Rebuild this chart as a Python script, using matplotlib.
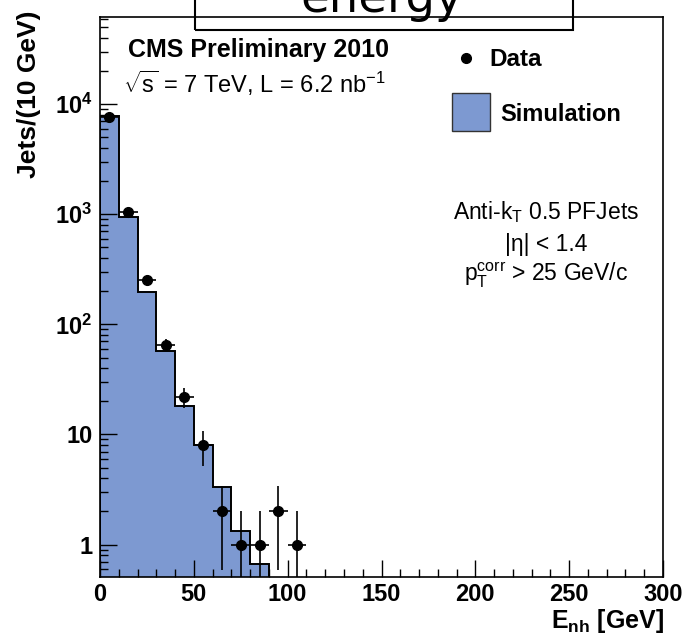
import numpy as np
import matplotlib
matplotlib.use("Agg")
import matplotlib.pyplot as plt
from matplotlib.patches import Rectangle
from matplotlib.lines import Line2D
from matplotlib.ticker import MultipleLocator, LogLocator, NullFormatter

plt.rcParams['font.family'] = ['Liberation Sans', 'DejaVu Sans']
plt.rcParams['mathtext.fontset'] = 'custom'
plt.rcParams['mathtext.rm'] = 'Liberation Sans'
plt.rcParams['mathtext.it'] = 'Liberation Sans:italic'
plt.rcParams['mathtext.bf'] = 'Liberation Sans:bold'

# Neutral hadron energy, 10 GeV bins
data_centers = [5, 15, 25, 35, 45, 55, 65, 75, 85, 95, 105]
data_counts = [7720, 1056, 253, 65, 22, 8, 2, 1, 1, 2, 1]

sim_edges = [0, 10, 20, 30, 40, 50, 60, 70, 80, 90]
sim_counts = [7850, 950, 198, 57.5, 18.1, 8.1, 3.3, 1.32, 0.67]

x_ticks = [0, 50, 100, 150, 200, 250, 300]
x_tick_labels = ['0', '50', '100', '150', '200', '250', '300']
y_ticks = [1, 10, 100, 1000, 10000]
y_tick_labels = ['1', '10', r'$\mathbf{10^{2}}$', r'$\mathbf{10^{3}}$', r'$\mathbf{10^{4}}$']

SIM_BLUE = '#7d99d1'
W, H = 690, 642


def fx(px):
    return px / W


def fy(py):
    return 1 - py / H


fig = plt.figure(figsize=(W / 100, H / 100), dpi=100)
ax = fig.add_axes([fx(100), fy(577), (663 - 100) / W, (577 - 17) / H])
ax.set_yscale('log', nonpositive='clip')
ax.set_xlim(0, 300)
ax.set_ylim(0.507, 6.2e4)

# simulation histogram: filled body plus dark outline
ax.stairs(sim_counts, sim_edges, baseline=1e-3, fill=True, color=SIM_BLUE,
          lw=0, zorder=1)
ax.stairs(sim_counts, sim_edges, baseline=1e-3, color='black', lw=1.4,
          zorder=2)

# data points with Poisson errors and bin-width horizontal bars
counts = np.array(data_counts, dtype=float)
err = np.sqrt(counts)
ax.errorbar(data_centers, counts, xerr=5, yerr=[err, err], fmt='o',
            color='black', ms=7, elinewidth=1.2, capsize=0, zorder=3)

# axes styling
for s in ax.spines.values():
    s.set_linewidth(1.2)
    s.set_color('black')
ax.set_xticks(x_ticks, labels=x_tick_labels, fontsize=17, fontweight='bold')
ax.set_yticks(y_ticks, labels=y_tick_labels, fontsize=17, fontweight='bold')
ax.xaxis.set_minor_locator(MultipleLocator(10))
ax.yaxis.set_minor_locator(LogLocator(base=10, subs=range(2, 10), numticks=20))
ax.yaxis.set_minor_formatter(NullFormatter())
ax.tick_params(which='major', direction='in', length=12, width=1.0)
ax.tick_params(which='minor', direction='in', length=6, width=1.0)
ax.tick_params(axis='x', pad=4)
ax.tick_params(axis='y', pad=5.5)

# axis titles
fig.text(fx(29), fy(11), 'Jets/(10 GeV)', rotation=90, ha='center', va='top',
         fontsize=19, fontweight='bold')
fig.text(fx(664), fy(628), r'$\mathbf{E_{nh}}$ [GeV]', ha='right',
         va='baseline', fontsize=18, fontweight='bold')

# annotations
fig.text(fx(128), fy(57), 'CMS Preliminary 2010', fontsize=18,
         fontweight='bold', va='baseline')
fig.text(fx(123), fy(93), r'$\sqrt{\mathrm{s}}$ = 7 TeV, L = 6.2 nb$^{\mathrm{-1}}$',
         fontsize=17, va='baseline')
fig.text(fx(546), fy(219), r'Anti-k$_{\mathrm{T}}$ 0.5 PFJets', fontsize=16.5,
         ha='center', va='baseline')
fig.text(fx(546), fy(251), '|η| < 1.4', fontsize=16.5, ha='center',
         va='baseline')
fig.text(fx(546), fy(282), r'$\mathrm{p}_{\mathrm{T}}^{\mathrm{corr}}$ > 25 GeV/c',
         fontsize=16.5, ha='center', va='baseline')

# legend
fig.add_artist(Line2D([fx(466)], [fy(58)], marker='o', color='black', ms=7,
                      transform=fig.transFigure))
fig.text(fx(489), fy(66), 'Data', fontsize=17.5, fontweight='bold',
         va='baseline')
fig.add_artist(Rectangle((fx(452), fy(131)), (490 - 452) / W, (131 - 93) / H,
                         transform=fig.transFigure, facecolor=SIM_BLUE,
                         edgecolor='#333333', lw=1.0))
fig.text(fx(500), fy(121), 'Simulation', fontsize=17, fontweight='bold',
         va='baseline')

# title pave
fig.add_artist(Rectangle((fx(195), fy(30)), (573 - 195) / W, 0.2,
                         transform=fig.transFigure, fill=False,
                         edgecolor='black', lw=1.5, clip_on=False))
fig.text(fx(382), fy(12), 'energy', family='DejaVu Sans', fontsize=33.5,
         ha='center', va='baseline')

fig.savefig('out.png', dpi=100)
